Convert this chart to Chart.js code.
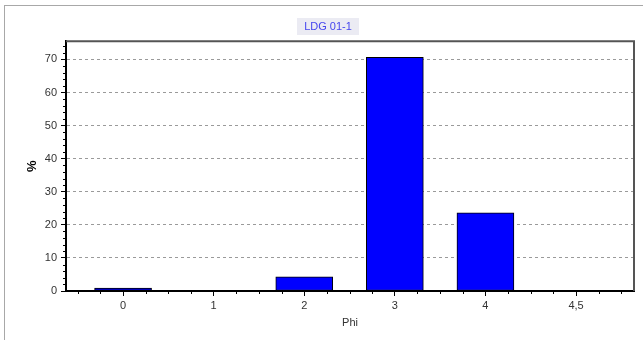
<!DOCTYPE html>
<html>
<head>
<meta charset="utf-8">
<title>LDG 01-1</title>
<script src="https://cdn.jsdelivr.net/npm/chart.js@4/dist/chart.umd.min.js"></script>
<style>
  html, body { margin: 0; padding: 0; background: #fff; }
  #wrap { position: relative; width: 643px; height: 340px; overflow: hidden; }
  #frame {
    position: absolute; left: 4px; top: 5px; right: 0; bottom: 0;
    border-left: 1px solid #a8a8a8; border-top: 1px solid #a8a8a8;
  }
  #chart { position: absolute; left: 0; top: 0; }
</style>
</head>
<body>
<div id="wrap">
  <div id="frame"></div>
  <canvas id="chart" width="643" height="340"></canvas>
</div>
<script>
// Data
const chartTitle = 'LDG 01-1';
const categories = ['0', '1', '2', '3', '4', '4,5'];
const percentages = [0.9, 0, 4.3, 70.6, 23.6, 0];
const yTicks = [0, 10, 20, 30, 40, 50, 60, 70];

const FONT = "'Liberation Sans', Arial, sans-serif";
const TEXT = '#333';

// Light box behind the title text
const titleBox = {
    id: 'titleBox',
    beforeDraw(chart) {
        const tb = chart.titleBlock;
        if (!tb) return;
        const ctx = chart.ctx;
        ctx.save();
        ctx.font = '11px ' + FONT;
        const w = ctx.measureText(chartTitle).width + 14;
        const cx = (tb.left + tb.right) / 2;
        const cy = tb.top + 20 + 6.6;
        ctx.fillStyle = '#ebebf3';
        ctx.fillRect(Math.round(cx - w / 2), Math.round(cy - 8.5), Math.round(w), 17);
        ctx.restore();
    }
};

// Minor tick marks + top/right frame of the plot
const plotDecor = {
    id: 'plotDecor',
    afterDraw(chart) {
        const { ctx, chartArea: a, scales: { x, y } } = chart;
        ctx.save();
        ctx.strokeStyle = '#000';
        ctx.lineWidth = 1;
        ctx.beginPath();
        for (let v = -0.5; v <= 5.5; v += 0.25) {
            if (Number.isInteger(v)) continue;
            const px = Math.round(x.getPixelForValue(v)) + 0.5;
            ctx.moveTo(px, x.top);
            ctx.lineTo(px, x.top + 3);
        }
        for (let v = 2; v < 75; v += 2) {
            if (v % 10 === 0) continue;
            const py = Math.round(y.getPixelForValue(v)) + 0.5;
            ctx.moveTo(y.right - 3, py);
            ctx.lineTo(y.right, py);
        }
        ctx.stroke();

        ctx.strokeStyle = '#555';
        ctx.lineWidth = 2;
        ctx.beginPath();
        ctx.moveTo(a.left, a.top);
        ctx.lineTo(a.right, a.top);
        ctx.lineTo(a.right, a.bottom);
        ctx.stroke();
        ctx.restore();
    }
};

const hasValue = c => c.raw && c.raw.y > 0;

const ctx = document.getElementById('chart').getContext('2d');
new Chart(ctx, {
    type: 'bar',
    data: {
        datasets: [{
            label: '%',
            data: percentages.map((v, i) => ({ x: i, y: v })),
            backgroundColor: c => (hasValue(c) ? '#0000ff' : 'rgba(0,0,0,0)'),
            borderColor: '#000',
            borderWidth: c => (hasValue(c) ? 1 : 0),
            borderSkipped: false,
            barThickness: 57
        }]
    },
    options: {
        responsive: false,
        animation: false,
        layout: { padding: { left: 22, right: 9, top: 0, bottom: 0 } },
        plugins: {
            legend: { display: false },
            tooltip: { enabled: false },
            title: {
                display: true,
                text: chartTitle,
                color: '#4545ee',
                font: { family: FONT, size: 11, weight: 'normal' },
                padding: { top: 20, bottom: 8 }
            }
        },
        scales: {
            x: {
                type: 'linear',
                min: -0.63,
                max: 5.64,
                offset: false,
                afterBuildTicks: s => { s.ticks = categories.map((c, i) => ({ value: i })); },
                afterFit: s => { s.height = 49; },
                ticks: {
                    callback: (v, i) => categories[i],
                    color: TEXT,
                    font: { family: FONT, size: 11 },
                    padding: 3,
                    maxRotation: 0,
                    autoSkip: false
                },
                grid: { offset: false, drawOnChartArea: false, tickLength: 5, tickColor: '#000' },
                border: { color: '#000', width: 2 },
                title: {
                    display: true,
                    text: 'Phi',
                    color: TEXT,
                    font: { family: FONT, size: 11 },
                    padding: { top: 2, bottom: 10 }
                }
            },
            y: {
                min: 0,
                max: 75.5,
                afterBuildTicks: s => { s.ticks = yTicks.map(v => ({ value: v })); },
                afterFit: s => { s.width = 44; },
                ticks: {
                    color: TEXT,
                    font: { family: FONT, size: 11 },
                    padding: 4
                },
                grid: { color: '#9a9a9a', tickColor: '#000', tickLength: 5, tickBorderDash: [] },
                border: { color: '#000', width: 2, dash: [3, 3] },
                title: {
                    display: true,
                    text: '%',
                    color: '#000',
                    font: { family: FONT, size: 13, weight: 'bold' },
                    padding: { top: 3, bottom: 0 }
                }
            }
        }
    },
    plugins: [titleBox, plotDecor]
});
</script>
</body>
</html>
